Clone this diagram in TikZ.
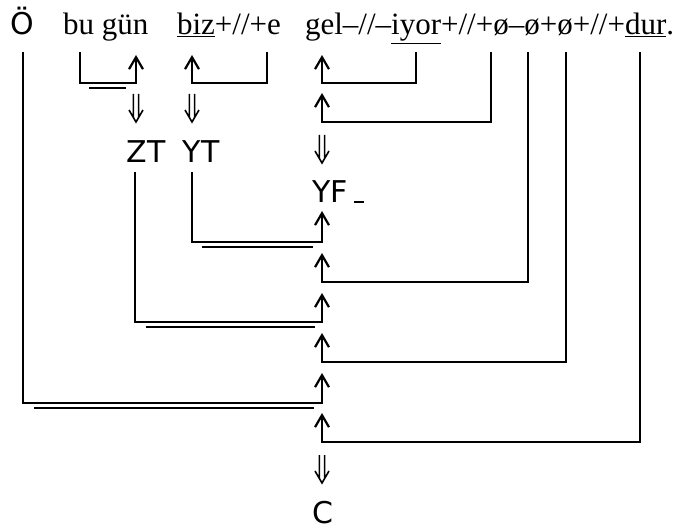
\documentclass[tikz,border=0pt]{standalone}
\usepackage{fontspec}
\setmainfont{Liberation Serif}
\newfontfamily\sansf{DejaVu Sans}
\usetikzlibrary{arrows.meta,calc}
\begin{document}
\begin{tikzpicture}[x=1bp,y=-1bp,line width=2.2bp,line cap=butt,
  up/.style={-{Straight Barb[length=12bp,width=14bp]}},
  dn/.style={line width=1.6bp,to path={
    ($(\tikztostart)+(-2.6,0)$) -- ($(\tikztotarget)+(-2.6,-5)$)
    ($(\tikztostart)+(2.6,0)$) -- ($(\tikztotarget)+(2.6,-5)$)
    ($(\tikztotarget)+(-7,-12)$) -- (\tikztotarget) -- ($(\tikztotarget)+(7,-12)$)}},
  ser/.style={inner sep=0pt,anchor=base west,font=\fontsize{31bp}{36bp}\selectfont},
  lab/.style={inner sep=0pt,anchor=base,font=\sansf\fontsize{30bp}{36bp}\selectfont},
  dbl/.style={line width=2.2bp}]
\useasboundingbox (0,0) rectangle (684,531);
% texts
\node[lab] (O) at (22,35) {Ö};
\node[ser] (bugun) at (62,35) {bu gün};
\node[ser] (biz) at (176,35) {\underline{biz}+//+e};
\node[ser] (gel) at (304,35) {gel–//–\underline{iyor}+//+ø–ø+ø+//+\underline{dur}.};
\node[lab] (ZT) at (146,163) {ZT};
\node[lab] (YT) at (201,163) {YT};
\node[lab,anchor=base west] (YF) at (311,203) {YF\hspace{6bp}\rule{10bp}{2bp}};
\node[lab] (C) at (323,523) {C};
% coordinates
\coordinate (bu) at (80,52);
\coordinate (gun) at (136,55);
\coordinate (bizT) at (192,55);
\coordinate (eT) at (267,52);
\coordinate (gelT) at (322,55);
\coordinate (iyorT) at (416,52);
\coordinate (o1) at (491,52);
\coordinate (o2) at (528,52);
\coordinate (o3) at (566,52);
\coordinate (dur) at (640,52);
\coordinate (Ot) at (23,52);
\coordinate (ZTb) at (135,172);
\coordinate (YTb) at (192,172);
% brackets
\draw[up] (bu) |- (gun |- 0,83) -- (gun);
\draw[dbl] (89,88) -- (126,88);
\draw[up] (eT) |- (bizT |- 0,83) -- (bizT);
\draw[up] (iyorT) |- (gelT |- 0,83) -- (gelT);
\draw[up] (o1) |- (322,122) -- (322,93);
% double arrows
\draw[dn] (136,94) to (136,122);
\draw[dn] (192,94) to (192,122);
\draw[dn] (322,135) to (322,163);
\draw[dn] (322,455) to (322,483);
% trunk
\draw[up] (YTb) |- (322,242) -- (322,211);
\draw[dbl] (202,247) -- (313,247);
\draw[up] (o2) |- (322,282) -- (322,253);
\draw[up] (ZTb) |- (322,322) -- (322,293);
\draw[dbl] (146,327) -- (315,327);
\draw[up] (o3) |- (322,362) -- (322,333);
\draw[up] (Ot) |- (322,403) -- (322,373);
\draw[dbl] (34,408) -- (314,408);
\draw[up] (dur) |- (322,442) -- (322,413);
\end{tikzpicture}
\end{document}
